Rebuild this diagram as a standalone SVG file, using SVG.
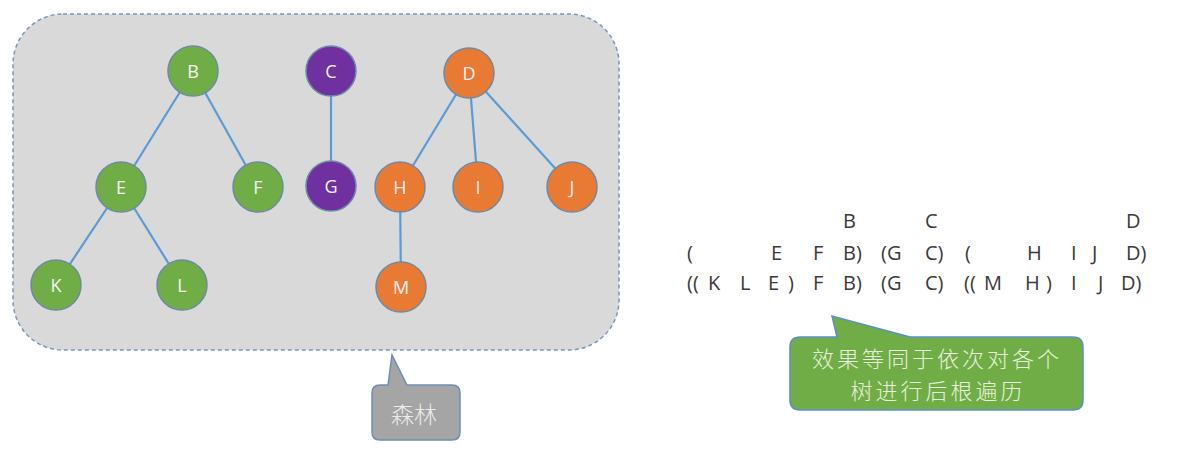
<svg xmlns="http://www.w3.org/2000/svg" width="1180" height="465" viewBox="0 0 1180 465">
<style>
.edge{stroke:#5b9bd5;stroke-width:2.2;fill:none}
.n{stroke:#6d8aa6;stroke-width:1.5}
.g{fill:#70ad47}.p{fill:#7030a0}.o{fill:#e97a33}
.lbl{font-family:"Open Sans","Liberation Sans",sans-serif;font-size:18px;fill:#f4f4f4;text-anchor:middle;dominant-baseline:central}
.seq{font-family:"Open Sans","Liberation Sans",sans-serif;font-size:20px;fill:#3a3a3a}
.cjk{font-family:"Noto Sans CJK SC",sans-serif;text-anchor:middle;font-weight:300}
</style>
<rect width="1180" height="465" fill="#ffffff"/>
<g id="forest">
<rect x="13" y="14" width="606" height="336" rx="50" ry="50" fill="#d9d9d9" stroke="#7a97bd" stroke-width="1.5" stroke-dasharray="4 3"/>
</g>
<g id="connectors">
<line class="edge" x1="193" y1="71" x2="121" y2="187"/>
<line class="edge" x1="193" y1="71" x2="258" y2="187"/>
<line class="edge" x1="121" y1="187" x2="56" y2="285"/>
<line class="edge" x1="121" y1="187" x2="182" y2="285"/>
<line class="edge" x1="331" y1="71" x2="331" y2="186"/>
<line class="edge" x1="469" y1="73" x2="400" y2="187"/>
<line class="edge" x1="469" y1="73" x2="478" y2="187"/>
<line class="edge" x1="469" y1="73" x2="572" y2="187"/>
<line class="edge" x1="400" y1="187" x2="401" y2="287"/>
</g>
<g id="B"><circle class="n g" cx="193" cy="71" r="25"/><text class="lbl" x="193" y="71">B</text></g>
<g id="C"><circle class="n p" cx="331" cy="71" r="25"/><text class="lbl" x="331" y="71">C</text></g>
<g id="D"><circle class="n o" cx="469" cy="73" r="25"/><text class="lbl" x="469" y="73">D</text></g>
<g id="E"><circle class="n g" cx="121" cy="187" r="25"/><text class="lbl" x="121" y="187">E</text></g>
<g id="F"><circle class="n g" cx="258" cy="187" r="25"/><text class="lbl" x="258" y="187">F</text></g>
<g id="G"><circle class="n p" cx="331" cy="186" r="25"/><text class="lbl" x="331" y="186">G</text></g>
<g id="H"><circle class="n o" cx="400" cy="187" r="25"/><text class="lbl" x="400" y="187">H</text></g>
<g id="I"><circle class="n o" cx="478" cy="187" r="25"/><text class="lbl" x="478" y="187">I</text></g>
<g id="J"><circle class="n o" cx="572" cy="187" r="25"/><text class="lbl" x="572" y="187">J</text></g>
<g id="K"><circle class="n g" cx="56" cy="285" r="25"/><text class="lbl" x="56" y="285">K</text></g>
<g id="L"><circle class="n g" cx="182" cy="285" r="25"/><text class="lbl" x="182" y="285">L</text></g>
<g id="M"><circle class="n o" cx="401" cy="287" r="25"/><text class="lbl" x="401" y="287">M</text></g>
<g id="callout-forest">
<path d="M380 385 L388 385 L392 355 L407 385 L452 385 Q460 385 460 393 L460 432 Q460 440 452 440 L380 440 Q372 440 372 432 L372 393 Q372 385 380 385 Z" fill="#a5a5a5" stroke="#6f8db5" stroke-width="1.5"/>
<text class="cjk" x="414" y="423" font-size="23" fill="#ececec">森林</text>
</g>
<g id="callout-note">
<path d="M800 337 L837 337 L832 316 L910 337 L1073 337 Q1083 337 1083 347 L1083 400 Q1083 410 1073 410 L800 410 Q790 410 790 400 L790 347 Q790 337 800 337 Z" fill="#70ad47" stroke="#5b8fc7" stroke-width="1.5"/>
<text class="cjk" x="937" y="367" font-size="22" letter-spacing="3" fill="#e8f2dc">效果等同于依次对各个</text>
<text class="cjk" x="938" y="399" font-size="22" letter-spacing="3" fill="#e8f2dc">树进行后根遍历</text>
</g>
<g id="sequence" class="seq">
<text x="843" y="228">B</text>
<text x="925" y="228">C</text>
<text x="1126" y="228">D</text>
<text x="687" y="260">(</text>
<text x="771" y="260">E</text>
<text x="813" y="260">F</text>
<text x="843" y="260">B)</text>
<text x="881" y="260">(G</text>
<text x="925" y="260">C)</text>
<text x="965" y="260">(</text>
<text x="1027" y="260">H</text>
<text x="1071" y="260">I</text>
<text x="1092" y="260">J</text>
<text x="1126" y="260">D)</text>
<text x="687" y="290">((</text>
<text x="708" y="290">K</text>
<text x="740" y="290">L</text>
<text x="768" y="290">E</text>
<text x="788" y="290">)</text>
<text x="813" y="290">F</text>
<text x="843" y="290">B)</text>
<text x="881" y="290">(G</text>
<text x="925" y="290">C)</text>
<text x="964" y="290">((</text>
<text x="984" y="290">M</text>
<text x="1025" y="290">H</text>
<text x="1046" y="290">)</text>
<text x="1071" y="290">I</text>
<text x="1098" y="290">J</text>
<text x="1121" y="290">D)</text>
</g>
</svg>
